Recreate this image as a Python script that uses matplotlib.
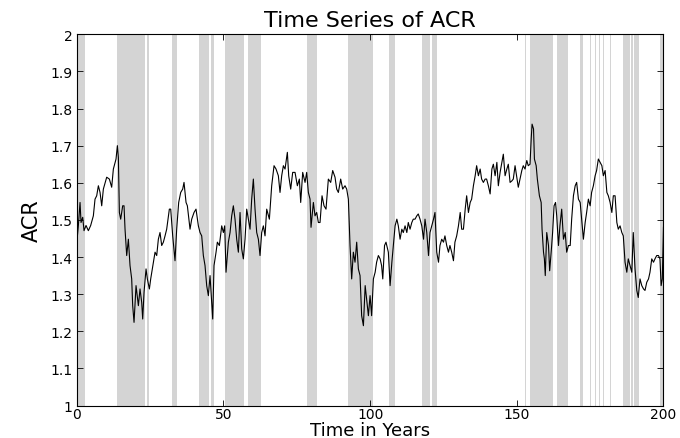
"""Time series of ACR over 200 years with shaded periods, MATLAB-like look."""

import matplotlib

matplotlib.use("Agg")
import matplotlib.pyplot as plt
import numpy as np

# Values
years = [
    0.0, 0.52, 1.09, 1.43, 2.0, 2.45, 3.13, 3.93, 4.72, 5.63, 6.2, 6.77,
    7.34, 7.91, 8.48, 9.04, 10.18, 11.09, 11.88, 12.45, 13.36, 13.82, 14.16,
    14.5, 14.95, 15.63, 16.09, 16.43, 17.0, 17.57, 18.13, 18.7, 19.04, 19.5,
    20.18, 20.98, 21.54, 22.11, 22.45, 22.91, 23.59, 24.04, 24.73, 25.18,
    26.09, 26.66, 27.23, 27.79, 28.36, 28.93, 29.5, 30.07, 30.63, 31.54,
    32.0, 32.68, 33.47, 34.04, 34.72, 35.41, 36.09, 36.54, 37.23, 37.68,
    38.59, 39.16, 39.95, 40.63, 41.43, 42.0, 42.57, 43.13, 43.7, 44.27,
    44.84, 45.41, 46.32, 46.77, 47.46, 47.91, 48.59, 49.39, 49.96, 50.41,
    50.86, 51.66, 52.23, 52.8, 53.36, 53.93, 54.5, 55.07, 55.64, 56.2,
    56.77, 57.34, 57.91, 58.48, 59.05, 59.61, 60.18, 60.75, 61.32, 61.89,
    62.45, 63.02, 63.59, 64.16, 64.73, 65.64, 66.43, 67.23, 67.91, 68.7,
    69.27, 69.84, 70.41, 70.98, 71.77, 72.23, 72.91, 73.59, 74.39, 75.18,
    75.86, 76.32, 77.0, 77.8, 78.36, 78.93, 79.5, 79.84, 80.64, 81.2,
    81.77, 82.34, 82.91, 83.59, 84.27, 84.95, 85.75, 86.55, 87.23, 88.02,
    88.59, 89.16, 89.95, 90.64, 91.43, 92.0, 92.57, 93.14, 93.7, 94.27,
    94.84, 95.41, 95.98, 96.55, 97.1, 97.7, 98.3, 98.8, 99.4, 99.97,
    100.5, 101.1, 101.7, 102.2, 102.8, 103.4, 103.9, 104.3, 104.9, 105.4,
    106.2, 106.8, 107.4, 107.9, 108.5, 109.1, 109.6, 110.2, 110.8, 111.3,
    111.9, 112.5, 113.0, 113.6, 114.2, 114.7, 115.3, 115.9, 116.4, 117.0,
    117.6, 118.2, 118.7, 119.3, 119.9, 120.4, 121.0, 121.6, 122.1, 122.7,
    123.3, 123.8, 124.4, 125.0, 125.5, 126.1, 126.7, 127.2, 127.8, 128.4,
    128.9, 129.5, 130.1, 130.7, 131.2, 131.8, 132.4, 132.9, 133.5, 134.1,
    134.6, 135.2, 135.8, 136.3, 136.9, 137.5, 138.0, 138.6, 139.2, 139.7,
    140.3, 140.9, 141.5, 142.0, 142.6, 143.2, 143.7, 144.3, 144.9, 145.4,
    146.0, 146.6, 147.1, 147.7, 148.3, 148.8, 149.4, 149.9, 150.5, 151.1,
    151.7, 152.2, 152.8, 153.4, 153.9, 154.5, 154.9, 155.2, 155.7, 156.0,
    156.6, 157.0, 157.7, 158.3, 158.6, 159.1, 159.4, 159.7, 160.2, 160.8,
    161.2, 161.8, 162.2, 162.7, 163.2, 163.6, 164.2, 164.7, 165.3, 165.9,
    166.5, 167.0, 167.6, 168.2, 168.7, 169.3, 169.9, 170.4, 171.0, 171.6,
    172.1, 172.7, 173.3, 173.8, 174.4, 175.0, 175.5, 176.1, 176.7, 177.2,
    177.8, 178.4, 179.0, 179.5, 180.1, 180.7, 181.2, 181.8, 182.4, 182.9,
    183.5, 184.1, 184.6, 185.2, 185.8, 186.3, 186.9, 187.5, 188.0, 188.6,
    189.2, 189.7, 190.3, 190.9, 191.4, 192.0, 192.6, 193.2, 193.7, 194.3,
    194.9, 195.4, 196.0, 196.6, 197.1, 197.7, 198.3, 198.8, 199.2, 199.6,
    200.0,
]

acr = [
    1.440, 1.485, 1.547, 1.493, 1.507, 1.471, 1.485, 1.471, 1.485, 1.511,
    1.556, 1.565, 1.592, 1.574, 1.538, 1.583, 1.615, 1.610, 1.588, 1.637,
    1.664, 1.700, 1.668, 1.520, 1.502, 1.538, 1.538, 1.475, 1.404, 1.448,
    1.377, 1.341, 1.269, 1.224, 1.323, 1.269, 1.314, 1.278, 1.233, 1.305,
    1.368, 1.341, 1.314, 1.341, 1.386, 1.413, 1.404, 1.448, 1.466, 1.431,
    1.440, 1.457, 1.475, 1.529, 1.529, 1.457, 1.390, 1.475, 1.547, 1.574,
    1.583, 1.601, 1.547, 1.538, 1.475, 1.502, 1.520, 1.529, 1.484, 1.466,
    1.457, 1.404, 1.377, 1.323, 1.296, 1.350, 1.233, 1.377, 1.413, 1.440,
    1.431, 1.484, 1.466, 1.484, 1.359, 1.440, 1.466, 1.511, 1.538, 1.502,
    1.448, 1.413, 1.520, 1.422, 1.395, 1.448, 1.529, 1.502, 1.475, 1.556,
    1.610, 1.529, 1.466, 1.448, 1.404, 1.466, 1.484, 1.457, 1.529, 1.502,
    1.592, 1.646, 1.637, 1.619, 1.574, 1.619, 1.646, 1.637, 1.682, 1.619,
    1.583, 1.628, 1.628, 1.592, 1.610, 1.547, 1.628, 1.601, 1.628, 1.574,
    1.556, 1.480, 1.547, 1.511, 1.520, 1.493, 1.493, 1.565, 1.538, 1.529,
    1.610, 1.601, 1.633, 1.615, 1.583, 1.574, 1.610, 1.583, 1.592, 1.583,
    1.556, 1.431, 1.341, 1.413, 1.386, 1.440, 1.368, 1.350, 1.242, 1.215,
    1.323, 1.287, 1.242, 1.296, 1.242, 1.341, 1.359, 1.386, 1.404, 1.395,
    1.377, 1.341, 1.431, 1.440, 1.413, 1.323, 1.386, 1.431, 1.484, 1.502,
    1.484, 1.448, 1.475, 1.466, 1.484, 1.466, 1.493, 1.475, 1.493, 1.502,
    1.502, 1.511, 1.516, 1.502, 1.484, 1.448, 1.502, 1.466, 1.404, 1.466,
    1.484, 1.502, 1.520, 1.413, 1.386, 1.431, 1.448, 1.440, 1.457, 1.431,
    1.413, 1.431, 1.413, 1.390, 1.440, 1.457, 1.484, 1.520, 1.475, 1.475,
    1.529, 1.565, 1.520, 1.547, 1.556, 1.592, 1.619, 1.646, 1.619, 1.637,
    1.610, 1.601, 1.610, 1.610, 1.592, 1.570, 1.637, 1.650, 1.619, 1.655,
    1.592, 1.628, 1.655, 1.677, 1.619, 1.637, 1.650, 1.601, 1.605, 1.610,
    1.646, 1.619, 1.588, 1.610, 1.633, 1.646, 1.637, 1.660, 1.646, 1.650,
    1.718, 1.758, 1.745, 1.664, 1.646, 1.610, 1.565, 1.547, 1.475, 1.413,
    1.395, 1.350, 1.466, 1.431, 1.363, 1.422, 1.466, 1.538, 1.547, 1.511,
    1.431, 1.484, 1.529, 1.448, 1.466, 1.413, 1.431, 1.431, 1.502, 1.565,
    1.592, 1.601, 1.556, 1.547, 1.502, 1.448, 1.493, 1.520, 1.556, 1.538,
    1.574, 1.592, 1.619, 1.633, 1.664, 1.655, 1.646, 1.619, 1.633, 1.574,
    1.565, 1.547, 1.520, 1.565, 1.565, 1.493, 1.475, 1.484, 1.466, 1.457,
    1.386, 1.359, 1.395, 1.377, 1.359, 1.466, 1.368, 1.310, 1.291, 1.341,
    1.323, 1.314, 1.310, 1.332, 1.341, 1.359, 1.395, 1.386, 1.395, 1.404,
    1.404, 1.395, 1.323, 1.341, 1.480,
]

# Shaded periods (start year, end year)
band_starts = [
    0.2, 13.8, 24.0, 32.4, 41.5, 45.8, 50.4, 58.4, 78.4, 92.6, 106.5,
    117.8, 121.2, 130.5, 152.9, 154.6, 163.6, 171.6, 175.0, 176.7, 177.9,
    179.5, 181.8, 186.1, 189.0, 189.8, 198.8,
]
band_ends = [
    2.8, 23.2, 24.7, 34.1, 45.0, 46.7, 57.1, 62.9, 82.0, 100.9, 108.3,
    120.5, 122.9, 130.7, 153.3, 162.2, 167.6, 172.5, 175.4, 177.1, 178.3,
    179.8, 182.0, 188.7, 189.5, 191.8, 200.0,
]

x_ticks = [0, 50, 100, 150, 200]
y_ticks = [1.0, 1.1, 1.2, 1.3, 1.4, 1.5, 1.6, 1.7, 1.8, 1.9, 2.0]
y_tick_labels = ["1", "1.1", "1.2", "1.3", "1.4", "1.5", "1.6", "1.7",
                 "1.8", "1.9", "2"]


def plot_acr(output_path="out.png"):
    plt.rcParams["font.family"] = ["DejaVu Sans"]

    fig = plt.figure(figsize=(6.8, 4.39), dpi=100)
    ax = fig.add_axes([0.113, 0.074, 0.8627, 0.8456])

    for start, end in zip(band_starts, band_ends):
        ax.axvspan(start, end, color="#d4d4d4", lw=0, zorder=0)

    ax.plot(years, acr, color="black", lw=0.8, zorder=2)

    ax.set_xlim(0, 200)
    ax.set_ylim(1, 2)
    ax.set_xticks(x_ticks)
    ax.set_yticks(y_ticks)
    ax.set_yticklabels(y_tick_labels)

    ax.tick_params(direction="in", top=True, right=True, length=4,
                   width=0.6, labelsize=10)
    ax.tick_params(axis="x", pad=1)
    ax.tick_params(axis="y", pad=3)
    for spine in ax.spines.values():
        spine.set_linewidth(0.8)

    ax.set_title("Time Series of ACR", fontsize=16, pad=6)
    ax.set_xlabel("Time in Years", fontsize=13, labelpad=0)
    ax.set_ylabel("ACR", fontsize=15, labelpad=6)

    fig.savefig(output_path, dpi=100)


if __name__ == "__main__":
    plot_acr("out.png")
